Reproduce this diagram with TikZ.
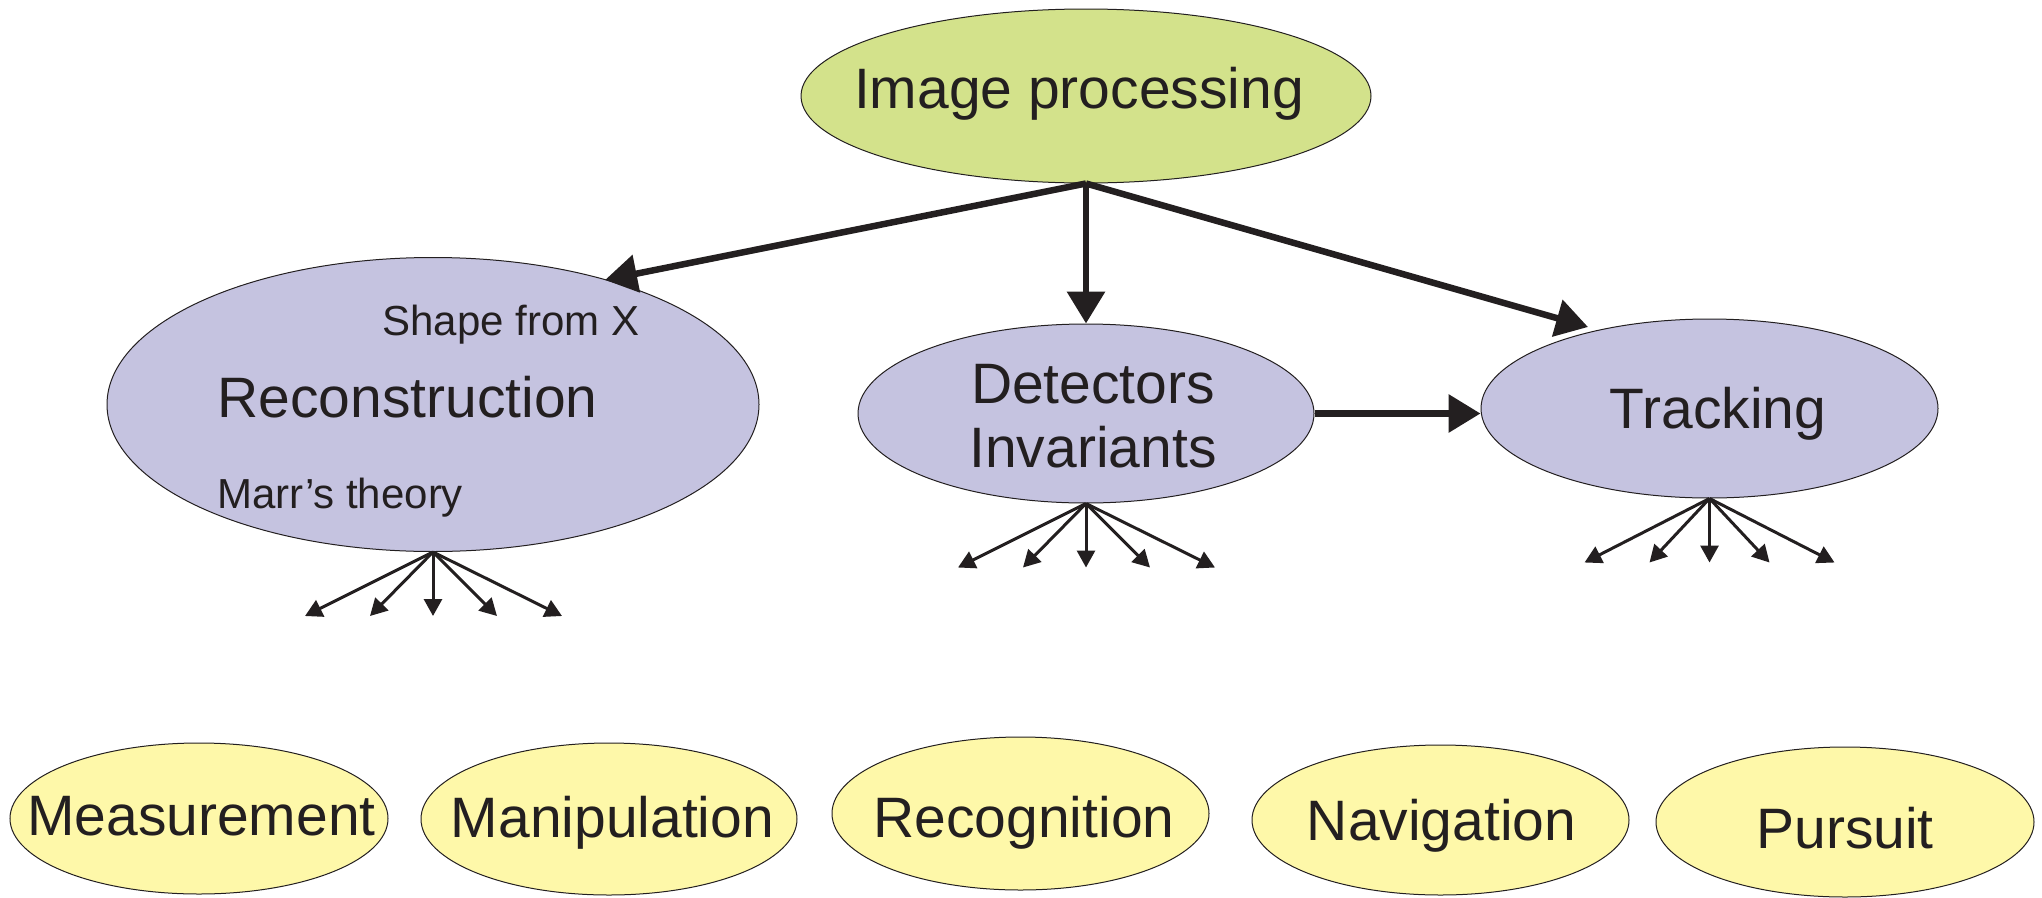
\documentclass[tikz,border=0pt]{standalone}
\usepackage{fontspec}
\setmainfont{Liberation Sans}
\usetikzlibrary{shapes.geometric,arrows.meta}
\definecolor{ink}{HTML}{231F20}
\definecolor{topgreen}{HTML}{D3E28B}
\definecolor{midlilac}{HTML}{C5C3E0}
\definecolor{lowyellow}{HTML}{FEF8A9}
\tikzset{
  ell/.style={ellipse, draw=ink, line width=1pt, inner sep=0pt},
  big/.style={font=\fontsize{57}{64}\selectfont, text=ink, inner sep=0pt, anchor=base},
  small/.style={font=\fontsize{42}{48}\selectfont, text=ink, inner sep=0pt, anchor=base},
  bigarrow/.style={draw=ink, line width=6.5pt, -{Triangle[width=37pt,length=32pt]}},
  fanarrow/.style={draw=ink, line width=3pt, -{Triangle[width=18pt,length=17pt]}},
}
\begin{document}
\begin{tikzpicture}[x=1pt,y=-1pt]
\useasboundingbox (0,0) rectangle (2042,897);
% ellipses
\node[ell, fill=topgreen, minimum width=570pt, minimum height=174pt] (top) at (1086,96) {};
\node[ell, fill=midlilac, minimum width=652pt, minimum height=294pt] (recon) at (433,404.5) {};
\node[ell, fill=midlilac, minimum width=456pt, minimum height=179pt] (det) at (1086,413.5) {};
\node[ell, fill=midlilac, minimum width=457pt, minimum height=179pt] (track) at (1709.5,408.5) {};
\node[ell, fill=lowyellow, minimum width=378pt, minimum height=151pt] (meas) at (199,818.5) {};
\node[ell, fill=lowyellow, minimum width=376pt, minimum height=152pt] (manip) at (609,819) {};
\node[ell, fill=lowyellow, minimum width=377pt, minimum height=153pt] (recog) at (1020.5,813.5) {};
\node[ell, fill=lowyellow, minimum width=377pt, minimum height=150pt] (navig) at (1440.5,820) {};
\node[ell, fill=lowyellow, minimum width=378pt, minimum height=150pt] (purs) at (1845,822) {};
% texts
\node[big] (topT) at (1079,108) {Image processing};
\node[small] (shapeT) at (511,335) {Shape from X};
\node[big] (reconT) at (407.5,417) {Reconstruction};
\node[small, anchor=base west] (marrT) at (217,508) {Marr’s theory};
\node[big] (detT1) at (1093,403) {Detectors};
\node[big] (detT2) at (1093,467) {Invariants};
\node[big] (trackT) at (1718,428) {Tracking};
\node[big] (measT) at (201.5,835) {Measurement};
\node[big] (manipT) at (612.5,837) {Manipulation};
\node[big] (recogT) at (1024,837) {Recognition};
\node[big] (navigT) at (1441.5,840) {Navigation};
\node[big] (pursT) at (1845,848) {Pursuit};
% arrow ends
\coordinate (tipL) at (605,280);
\coordinate (tipR) at (1588,327);
\draw[bigarrow] (top.south) -- (tipL);
\draw[bigarrow] (top.south) -- (det.north);
\draw[bigarrow] (top.south) -- (tipR);
\draw[bigarrow] (det.east) -- (det.east -| track.west);
% fans
\foreach \n/\dx in {1/-128,2/-63,3/0,4/64,5/129}{
  \coordinate (rf\n) at ([xshift=\dx pt, yshift=-64pt]recon.south);
  \draw[fanarrow] (recon.south) -- (rf\n);
  \coordinate (df\n) at ([xshift=\dx pt, yshift=-64pt]det.south);
  \draw[fanarrow] (det.south) -- (df\n);
}
\foreach \n/\dx in {1/-125,2/-60,3/0,4/60,5/125}{
  \coordinate (tf\n) at ([xshift=\dx pt, yshift=-64pt]track.south);
  \draw[fanarrow] (track.south) -- (tf\n);
}
\end{tikzpicture}
\end{document}
